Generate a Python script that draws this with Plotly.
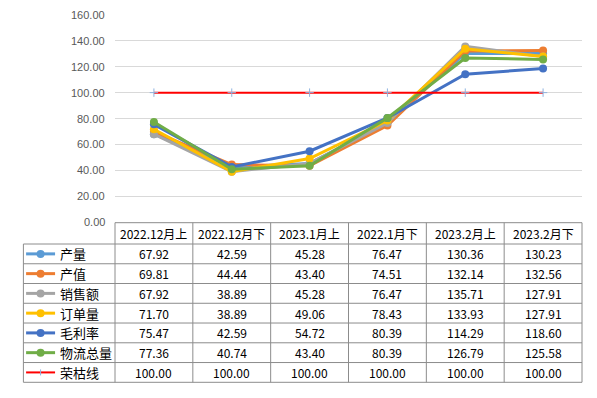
import plotly.graph_objects as go

categories = ["2022.12月上", "2022.12月下", "2023.1月上", "2022.1月下", "2023.2月上", "2023.2月下"]
series_names = ["产量", "产值", "销售额", "订单量", "毛利率", "物流总量", "荣枯线"]
v_chanliang = [67.92, 42.59, 45.28, 76.47, 130.36, 130.23]
v_chanzhi = [69.81, 44.44, 43.40, 74.51, 132.14, 132.56]
v_xiaoshou = [67.92, 38.89, 45.28, 76.47, 135.71, 127.91]
v_dingdan = [71.70, 38.89, 49.06, 78.43, 133.93, 127.91]
v_maoli = [75.47, 42.59, 54.72, 80.39, 114.29, 118.60]
v_wuliu = [77.36, 40.74, 43.40, 80.39, 126.79, 125.58]
v_rongku = [100.00, 100.00, 100.00, 100.00, 100.00, 100.00]
y_ticks = [0, 20, 40, 60, 80, 100, 120, 140, 160]

all_values = [v_chanliang, v_chanzhi, v_xiaoshou, v_dingdan, v_maoli, v_wuliu, v_rongku]
colors = ["#5B9BD5", "#ED7D31", "#A5A5A5", "#FFC000", "#4472C4", "#70AD47", "#FF0000"]

OFF = 8  # default page body margin
W, H = 597 - OFF, 398 - OFF
L, R, T, B = 115, 582.5, 15, 222  # plot area, page pixels

def px_x(p):
    return (p - L) / (R - L)

def px_y(p):
    return (B - p) / (B - T)

FONT = "Noto Sans CJK SC"
fig = go.Figure()
idx = list(range(len(categories)))
for name, vals, col in zip(series_names, all_values, colors):
    if name == "荣枯线":
        fig.add_trace(go.Scatter(
            x=idx, y=vals, mode="lines+markers", name=name,
            line=dict(color=col, width=2),
            marker=dict(symbol="cross-thin", size=6, color="#5B9BD5",
                        line=dict(color="#8FB4E0", width=1))))
    else:
        fig.add_trace(go.Scatter(
            x=idx, y=vals, mode="lines+markers", name=name,
            line=dict(color=col, width=3),
            marker=dict(symbol="circle", size=8, color=col)))

shapes = []
annotations = []
line_col = "#8C8C8C"
col_edges = [L + i * (R - L) / len(categories) for i in range(len(categories) + 1)]
row_top = 222.7
header_bottom = 244
row_edges = [header_bottom + i * (382.3 - header_bottom) / len(series_names) for i in range(len(series_names) + 1)]
leg_left = 23.3

shapes.append(dict(type="line", xref="paper", yref="paper", x0=px_x(L), x1=px_x(R),
                   y0=px_y(row_top), y1=px_y(row_top), line=dict(color=line_col, width=1)))
for ry in row_edges:
    shapes.append(dict(type="line", xref="paper", yref="paper", x0=px_x(leg_left), x1=px_x(R),
                       y0=px_y(ry), y1=px_y(ry), line=dict(color=line_col, width=1)))
shapes.append(dict(type="line", xref="paper", yref="paper", x0=px_x(leg_left), x1=px_x(leg_left),
                   y0=px_y(header_bottom), y1=px_y(row_edges[-1]), line=dict(color=line_col, width=1)))
for cx in col_edges:
    shapes.append(dict(type="line", xref="paper", yref="paper", x0=px_x(cx), x1=px_x(cx),
                       y0=px_y(row_top), y1=px_y(row_edges[-1]), line=dict(color=line_col, width=1)))

for i, c in enumerate(categories):
    annotations.append(dict(x=i, xref="x", y=px_y((row_top + header_bottom) / 2), yref="paper",
                            text=c, showarrow=False, xanchor="center", yanchor="middle",
                            font=dict(family=FONT, size=12, color="#000000")))
for r, (name, vals, col) in enumerate(zip(series_names, all_values, colors)):
    cy = (row_edges[r] + row_edges[r + 1]) / 2
    for i, v in enumerate(vals):
        annotations.append(dict(x=i, xref="x", y=px_y(cy), yref="paper",
                                text=f"{v:.2f}", showarrow=False, xanchor="center", yanchor="middle",
                                font=dict(family=FONT, size=12, color="#000000")))
    annotations.append(dict(x=px_x(58), xref="paper", y=px_y(cy), yref="paper",
                            text=name, showarrow=False, xanchor="left", yanchor="middle",
                            font=dict(family=FONT, size=13, color="#000000")))
    shapes.append(dict(type="line", xref="paper", yref="paper", x0=px_x(26), x1=px_x(55),
                       y0=px_y(cy), y1=px_y(cy),
                       line=dict(color=col, width=3 if name != "荣枯线" else 2)))
    if name != "荣枯线":
        shapes.append(dict(type="circle", xref="paper", yref="paper", xsizemode="pixel", ysizemode="pixel",
                           xanchor=px_x(40.5), yanchor=px_y(cy), x0=-4, x1=4, y0=-4, y1=4,
                           fillcolor=col, line=dict(color=col, width=0)))
    else:
        shapes.append(dict(type="line", xref="paper", yref="paper", xsizemode="pixel", ysizemode="pixel",
                           xanchor=px_x(40.5), yanchor=px_y(cy), x0=0, x1=0, y0=-3, y1=3,
                           line=dict(color="#8FB4E0", width=1)))

for t in y_ticks:
    annotations.append(dict(x=px_x(107), xref="paper", y=t, yref="y", text=f"{t:.2f}",
                            showarrow=False, xanchor="right", yanchor="middle",
                            font=dict(family="Liberation Sans", size=11, color="#595959")))

fig.update_layout(
    width=W, height=H,
    margin=dict(l=L - OFF, r=W - (R - OFF), t=T - OFF, b=H - (B - OFF)),
    plot_bgcolor="white", paper_bgcolor="white",
    showlegend=False,
    shapes=shapes, annotations=annotations,
    xaxis=dict(range=[-0.5, len(categories) - 0.5], showticklabels=False, showgrid=False,
               zeroline=False, showline=False, ticks=""),
    yaxis=dict(range=[0, 160], tickvals=y_ticks, showticklabels=False, showgrid=True,
               gridcolor="#D9D9D9", gridwidth=1, zeroline=False, showline=False, ticks=""),
)
fig.write_html("out.html")
